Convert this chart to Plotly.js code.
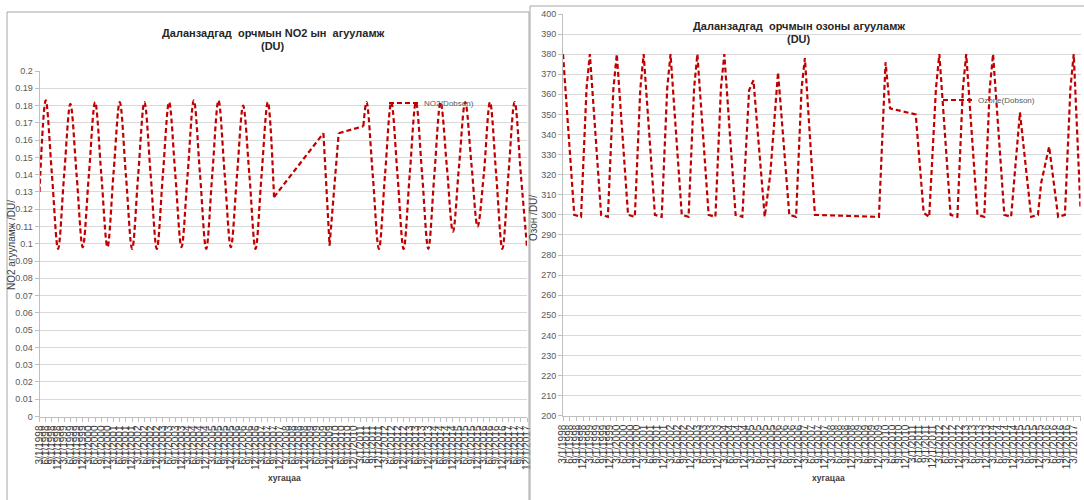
<!DOCTYPE html>
<html><head><meta charset="utf-8">
<script src="https://cdn.plot.ly/plotly-3.0.1.min.js"></script>
<style>html,body{margin:0;padding:0;background:#fff}#chart{width:1084px;height:500px}</style>
</head><body><div id="chart"></div>
<script>
// Quarterly tick labels (category dates on both x axes)
const quarterLabels = [
 "3/1/1998","6/1/1998","9/1/1998","12/1/1998","3/1/1999","6/1/1999","9/1/1999","12/1/1999",
 "3/1/2000","6/1/2000","9/1/2000","12/1/2000","3/1/2001","6/1/2001","9/1/2001","12/1/2001",
 "3/1/2002","6/1/2002","9/1/2002","12/1/2002","3/1/2003","6/1/2003","9/1/2003","12/1/2003",
 "3/1/2004","6/1/2004","9/1/2004","12/1/2004","3/1/2005","6/1/2005","9/1/2005","12/1/2005",
 "3/1/2006","6/1/2006","9/1/2006","12/1/2006","3/1/2007","6/1/2007","9/1/2007","12/1/2007",
 "3/1/2008","6/1/2008","9/1/2008","12/1/2008","3/1/2009","6/1/2009","9/1/2009","12/1/2009",
 "3/1/2010","6/1/2010","9/1/2010","12/1/2010","3/1/2011","6/1/2011","9/1/2011","12/1/2011",
 "3/1/2012","6/1/2012","9/1/2012","12/1/2012","3/1/2013","6/1/2013","9/1/2013","12/1/2013",
 "3/1/2014","6/1/2014","9/1/2014","12/1/2014","3/1/2015","6/1/2015","9/1/2015","12/1/2015",
 "3/1/2016","6/1/2016","9/1/2016","12/1/2016","3/1/2017","6/1/2017","9/1/2017","12/1/2017"
];
const no2TickLabels = quarterLabels;               // 3/1/1998 .. 12/1/2017
const ozoneTickLabels = quarterLabels.slice(0, 78); // 3/1/1998 .. 6/1/2017

// NO2 (Dobson) series
const no2Dates = [
 "3/1/1998","6/1/1998","9/1/1998","12/1/1998","3/1/1999","6/1/1999","9/1/1999","12/1/1999",
 "3/1/2000","6/1/2000","9/1/2000","12/1/2000","3/1/2001","6/1/2001","9/1/2001","12/1/2001",
 "3/1/2002","6/1/2002","9/1/2002","12/1/2002","3/1/2003","6/1/2003","9/1/2003","12/1/2003",
 "3/1/2004","6/1/2004","9/1/2004","12/1/2004","3/1/2005","6/1/2005","9/1/2005","12/1/2005",
 "3/1/2006","6/1/2006","9/1/2006","12/1/2006","3/1/2007","6/1/2007","9/1/2007",
 "9/1/2009","12/1/2009","4/15/2010","4/15/2011","6/1/2011","9/1/2011","12/1/2011",
 "3/1/2012","6/1/2012","9/1/2012","12/1/2012","3/1/2013","6/1/2013","9/1/2013","12/1/2013",
 "3/1/2014","6/1/2014","9/1/2014","12/1/2014","3/1/2015","6/1/2015","9/1/2015","12/1/2015",
 "3/1/2016","6/1/2016","9/1/2016","12/1/2016","3/1/2017","6/1/2017","9/1/2017","12/1/2017"
];
const no2Values = [
 0.130,0.183,0.140,0.097, 0.140,0.181,0.140,0.098,
 0.140,0.182,0.140,0.098, 0.141,0.182,0.139,0.097,
 0.140,0.182,0.140,0.097, 0.140,0.182,0.140,0.098,
 0.140,0.183,0.140,0.097, 0.140,0.183,0.140,0.098,
 0.139,0.180,0.140,0.097, 0.140,0.182,0.127,
 0.164,0.099,0.164,0.168,0.182,0.140,0.097,
 0.140,0.182,0.140,0.097, 0.140,0.182,0.140,0.097,
 0.140,0.182,0.145,0.107, 0.145,0.182,0.146,0.110,
 0.140,0.182,0.140,0.097, 0.140,0.182,0.140,0.098
];

// Ozone (Dobson) series
const ozoneDates = [
 "3/1/1998","8/1/1998","11/1/1998","1/15/1999",
 "3/1/1999","8/1/1999","11/1/1999","1/15/2000",
 "3/1/2000","8/1/2000","11/1/2000","1/15/2001",
 "3/1/2001","8/1/2001","11/1/2001","1/15/2002",
 "3/1/2002","8/1/2002","11/1/2002","1/15/2003",
 "3/1/2003","8/1/2003","11/1/2003","1/15/2004",
 "3/1/2004","8/1/2004","11/1/2004","2/1/2005","4/1/2005","9/1/2005","11/15/2005",
 "3/1/2006","8/1/2006","11/1/2006","1/15/2007",
 "3/1/2007","7/15/2007","9/1/2009","12/1/2009",
 "3/1/2010","5/1/2010","4/15/2011","8/1/2011","10/15/2011","1/15/2012",
 "3/1/2012","8/1/2012","11/1/2012","1/15/2013",
 "3/1/2013","8/1/2013","11/1/2013","1/15/2014",
 "3/1/2014","8/1/2014","11/1/2014","12/15/2014","3/1/2015",
 "8/1/2015","11/1/2015","12/15/2015","4/1/2016",
 "8/1/2016","11/1/2016","1/15/2017","3/1/2017","6/1/2017"
];
const ozoneValues = [
 380,300,299,363,
 380,300,299,363,
 380,300,299,363,
 380,300,299,363,
 380,300,299,363,
 380,300,299,363,
 380,300,299,362,367,299,320,
 371,300,299,363,
 378,300,299,299,
 376,353,350,301,299,363,
 380,300,299,363,
 380,300,299,363,
 380,300,299,319,351,
 299,300,316,334,
 299,300,363,380,303
];

const toISO = s => { const [m,d,y] = s.split('/'); return y+'-'+m.padStart(2,'0')+'-'+d.padStart(2,'0'); };

const W = 1084, H = 500;
const px = v => v / W, py = v => 1 - v / H;
const red = '#c00000', grid = '#d9d9d9', axisCol = '#bfbfbf', txt = '#595959', dark = '#404040';
const FONT = 'Liberation Sans, Arial, sans-serif';
const DASH = '5px,3px';

// NO2: regular quarterly runs drawn smoothed (as in the source), long data gaps drawn as straight joins
function no2Traces() {
  const xs = no2Dates.map(toISO), out = [];
  const day = s => new Date(s).getTime() / 864e5;
  let run = [0];
  const flush = () => {
    if (run.length > 1) out.push({ x: run.map(i => xs[i]), y: run.map(i => no2Values[i]), shape: 'spline' });
  };
  for (let i = 1; i < xs.length; i++) {
    if (day(xs[i]) - day(xs[i-1]) > 100) {
      flush();
      out.push({ x: [xs[i-1], xs[i]], y: [no2Values[i-1], no2Values[i]], shape: 'linear' });
      run = [i];
    } else run.push(i);
  }
  flush();
  return out.map((s, k) => ({
    x: s.x, y: s.y, type: 'scatter', mode: 'lines', name: 'NO2(Dobson)', legendgroup: 'no2',
    showlegend: k === 0, legend: 'legend', xaxis: 'x', yaxis: 'y',
    line: { color: red, width: 2.2, dash: DASH, shape: s.shape, smoothing: 1 }
  }));
}

const traces = no2Traces().concat([
 { x: ozoneDates.map(toISO), y: ozoneValues, type:'scatter', mode:'lines', name:'Ozone(Dobson)',
   line:{color:red, width:2.2, dash:DASH}, xaxis:'x2', yaxis:'y2', legend:'legend2' }
]);

function xAxis(labels, domain, anchor) {
  return { type:'date', domain, anchor, range:[toISO(labels[0]), toISO(labels[labels.length-1])],
    tickmode:'array', tickvals: labels.map(toISO), ticktext: labels, tickangle:-90,
    tickfont:{size:10, color:dark, family:FONT}, ticks:'outside', ticklen:4, tickcolor:axisCol,
    showline:true, linecolor:axisCol, showgrid:false, zeroline:false, fixedrange:true };
}
function yAxis(range, dtick, domain, anchor) {
  return { domain, anchor, range, dtick, tick0:range[0],
    tickfont:{size:9, color:txt, family:FONT}, ticks:'outside', ticklen:4, tickcolor:axisCol,
    showline:true, linecolor:axisCol, showgrid:true, gridcolor:grid, gridwidth:1, zeroline:false };
}

const ann = (x, y, text, size, color, angle) => ({ xref:'paper', yref:'paper', x:px(x), y:py(y),
  xanchor:'center', yanchor:'middle', text, showarrow:false, textangle: angle || 0,
  font:{size, color, family:FONT} });

const layout = {
  width:W, height:H, margin:{l:0, r:0, t:0, b:0}, paper_bgcolor:'#fff', plot_bgcolor:'rgba(0,0,0,0)',
  font:{family:FONT, color:txt}, showlegend:true,
  xaxis: xAxis(no2TickLabels, [px(39.5), px(527)], 'y'),
  yaxis: yAxis([0,0.2], 0.01, [py(416.5), py(71)], 'x'),
  xaxis2: xAxis(ozoneTickLabels, [px(563), px(1080.5)], 'y2'),
  yaxis2: yAxis([200,400], 10, [py(415.7), py(14)], 'x2'),
  legend:{x:px(384), y:py(103), xanchor:'left', yanchor:'middle', bgcolor:'rgba(0,0,0,0)', borderwidth:0,
    font:{size:8, color:txt, family:FONT}, itemwidth:30},
  legend2:{x:px(938), y:py(100), xanchor:'left', yanchor:'middle', bgcolor:'rgba(0,0,0,0)', borderwidth:0,
    font:{size:8, color:txt, family:FONT}, itemwidth:30},
  annotations:[
    ann(273, 33, '<b>Даланзадгад  орчмын NO2 ын  агууламж</b>', 11, '#262626'),
    ann(273, 46, '<b>(DU)</b>', 11, '#262626'),
    ann(799, 26, '<b>Даланзадгад  орчмын озоны агууламж</b>', 11, '#262626'),
    ann(799, 39, '<b>(DU)</b>', 11, '#262626'),
    ann(11, 245, 'NO2 агууламж /DU/', 10, dark, -90),
    ann(534, 218, 'Озон /DU/', 10, dark, -90),
    ann(284, 478, '<b>хугацаа</b>', 8.5, dark),
    ann(828, 478, '<b>хугацаа</b>', 8.5, dark)
  ],
  shapes:[
    {type:'rect', xref:'paper', yref:'paper', x0:px(7), x1:px(529), y0:py(520), y1:py(12), line:{color:'#a6a6a6', width:1}},
    {type:'rect', xref:'paper', yref:'paper', x0:px(530), x1:px(1090), y0:py(520), y1:py(6), line:{color:'#a6a6a6', width:1}}
  ]
};

Plotly.newPlot('chart', traces, layout, {staticPlot:true, displayModeBar:false});
</script>
</body></html>
